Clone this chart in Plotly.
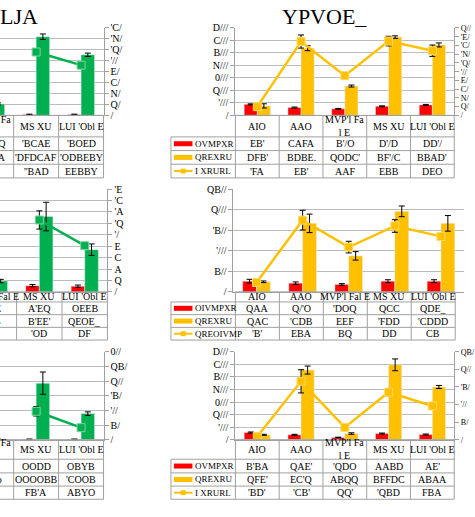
import plotly.graph_objects as go

W, H = 475, 517
FONT = "Liberation Serif"
RED, YEL, GRN = "#FF0000", "#FFC000", "#00B050"
YEL_EDGE, GRN_EDGE = "#FFD966", "#7FD3A0"
GRID = "#BCBCBC"
EDGE = "#A0A0A0"

# ---------------- text (as it appears in the reference) ----------------
categories = ["AIO", "AAO", "MVP'l Fa<br>l E", "MS XU", "LUI 'Obl E"]
categories_oneline = ["AIO", "AAO", "MVP'l Fal E", "MS XU", "LUI 'Obl E"]
title_left = "LJA"
title_right = "YPVOE_"
legend_top = ["OVMPXR", "QREXRU", "I XRURL"]
legend_mid = ["OIVMPXR", "QREXRU", "QREOIVMP"]
legend_bot = ["OVMPXR", "QREXRU", "I XRURL"]

# ---------------- top-left panel (green) ----------------
tl_red = [1.2, 1.0, 1.0, 1.5, 1.5]
tl_red_err = [0.5, 0.5, 0.5, 0.8, 0.8]
tl_green = [18, 12, 21, 144, 111]
tl_green_err = [2, 2, 2, 5, 3]
tl_line = [None, None, None, 116, 92]
tl_line_err = [0, 0, 0, 2, 2]
tl_tickvals = [0, 20, 40, 60, 80, 100, 120, 140, 160]
tl_ticktext = ["/", "Q/", "N/", "C/", "E/", "'//", "'Q/", "'N/", "'C/"]
tl_table = [["BQ", "AE", "'BCEQ", "'BCAE", "'BOED"],
            ["QOE", "EBA", "'EBDA", "'DFDCAF", "'ODBEBY"],
            ["", "", "", "''BAD", "EEBBY"]]

# ---------------- top-right panel (yellow) ----------------
tr_red = [885, 627, 525, 730, 840]
tr_red_err = [40, 40, 30, 35, 40]
tr_yel = [760, 5380, 2350, 6270, 5640]
tr_yel_err = [170, 200, 80, 100, 160]
tr_line = [20, 169, 91, 170, 148]
tr_line_err = [2, 15, 2, 11, 13]
tr_tickvals = [0, 1000, 2000, 3000, 4000, 5000, 6000, 7000]
tr_ticktext = ["/", "'///", "Q///", "0///", "N///", "B///", "C///", "D///"]
tr2_tickvals = [0, 20, 40, 60, 80, 100, 120, 140, 160, 180, 200]
tr2_ticktext = ["/", "Q/", "N/", "C/", "E/", "'//", "'Q/", "'N/", "'C/", "'E/", "Q//"]
tr_table = [["EB'", "CAFA", "B'/O", "D'/D", "DD'/"],
            ["DFB'", "BDBE.", "QODC'", "BF'/C", "BBAD'"],
            ["'FA", "EB'", "AAF", "EBB", "DEO"]]

# ---------------- middle-left panel (green) ----------------
ml_red = [1.0, 1.0, 1.0, 1.1, 1.0]
ml_red_err = [0.2, 0.2, 0.2, 0.2, 0.2]
ml_green = [2.2, 2.0, 1.9, 13.2, 7.4]
ml_green_err = [0.3, 0.3, 0.3, 2.5, 1.0]
ml_line = [None, None, None, 12.6, 8.1]
ml_line_err = [0, 0, 0, 1.6, 0.3]
ml_tickvals = [0, 2, 4, 6, 8, 10, 12, 14, 16, 18]
ml_ticktext = ["/", "Q", "A", "C", "E", "'/", "'Q", "'A", "'C", "'E"]
ml_table = [["'Q", "'A", "'AE", "A'EQ", "OEEB"],
            ["QA", "QE", "'EB", "B'EE'", "QEOE_"],
            ["", "", "", "'OD", "DF"]]

# ---------------- middle-right panel (yellow) ----------------
mr_red = [261, 213, 182, 261, 261]
mr_red_err = [45, 30, 20, 35, 35]
mr_yel = [246, 1668, 877, 1960, 1668]
mr_yel_err = [20, 225, 103, 130, 190]
mr_line = [230, 1746, 1090, 1604, 1351]
mr_line_err = [20, 240, 142, 154, 30]
mr_tickvals = [0, 500, 1000, 1500, 2000, 2500]
mr_ticktext = ["/", "B//", "'///", "'B//", "Q///", "QB//"]
mr_table = [["QAA", "Q/'O", "'DOQ", "QCC", "QDE_"],
            ["QAC", "'CDB", "EEF", "'FDD", "'CDDD"],
            ["'B'", "EBA", "BQ", "DD", "CB"]]

# ---------------- bottom-left panel (green) ----------------
bl_red = [1.0, 1.0, 1.0, 1.5, 1.5]
bl_red_err = [0.5, 0.5, 0.5, 0.8, 0.8]
bl_green = [3, 2, 1, 193, 89]
bl_green_err = [1, 1, 1, 38, 6]
bl_line = [None, None, None, 97, 41]
bl_line_err = [0, 0, 0, 16, 2]
bl_tickvals = [0, 50, 100, 150, 200, 250, 300]
bl_ticktext = ["/", "B/", "'//", "'B/", "Q//", "QB/", "0//"]
bl_table = [["'B", "'A", "'BQ.", "OODD", "OBYB"],
            ["AB", "QE", "'BDo", "OOOOBB", "'COOB"],
            ["", "", "", "FB'A", "ABYO"]]

# ---------------- bottom-right panel (yellow) ----------------
br_red = [568, 389, 181, 490, 412]
br_red_err = [45, 40, 20, 40, 40]
br_yel = [389, 5545, 490, 5960, 4200]
br_yel_err = [40, 320, 60, 470, 120]
br_line = [9, 166, 35, 135, 96]
br_line_err = [2, 33, 3, 10, 8]
br_tickvals = tr_tickvals
br_ticktext = tr_ticktext
br2_tickvals = [0, 50, 100, 150, 200, 250]
br2_ticktext = ["/", "B/", "'//", "'B/", "Q//", "QB/"]
br_table = [["B'BA", "QAE'", "'QDO", "AABD", "AE'"],
            ["QFE'", "EC'Q", "ABQQ", "BFFDC", "ABAA"],
            ["'BD'", "'CB'", "QQ'", "'QBD", "FBA"]]

x_idx = [0, 1, 2, 3, 4]

# ---------------- layout geometry (pixels) ----------------
panels = [
    dict(n=1, px=(0, 106), py=(22.5, 112), xr=(2.196, 4.5), side="right"),
    dict(n=2, px=(241, 465), py=(22.5, 112), xr=(-0.5, 4.5), side="left"),
    dict(n=3, px=(0, 110), py=(187.5, 292.7), xr=(2.134, 4.5), side="right"),
    dict(n=4, px=(239, 475), py=(187.5, 292.7), xr=(-0.5, 4.5), side="left"),
    dict(n=5, px=(0, 106), py=(354, 444), xr=(2.196, 4.5), side="right"),
    dict(n=6, px=(241, 465), py=(354, 444), xr=(-0.5, 4.5), side="left"),
]


def fx(px):
    return px / W


def fy(py):
    return 1 - py / H


fig = go.Figure()
shapes = []
annotations = []

errstyle = dict(type="data", color="black", thickness=1, width=3)


def add_panel(p, red, red_err, bar2, bar2_err, bar2_color, line, line_err,
              line_color, line_edge, yr, tickvals, ticktext, y2=None):
    n = p["n"]
    xa, ya = f"x{n}", f"y{n}"
    fig.add_trace(go.Bar(x=x_idx, y=red, marker_color=RED, xaxis=xa, yaxis=ya,
                         error_y=dict(array=red_err, **errstyle), showlegend=False))
    fig.add_trace(go.Bar(x=x_idx, y=bar2, marker_color=bar2_color, xaxis=xa, yaxis=ya,
                         error_y=dict(array=bar2_err, **errstyle), showlegend=False))
    ly = ya
    if y2 is not None:
        ly = f"y{y2['n']}"
    fig.add_trace(go.Scatter(x=x_idx, y=line, mode="lines+markers", xaxis=xa, yaxis=ly,
                             line=dict(color=line_color, width=2.5),
                             marker=dict(symbol="square", size=8, color=line_color,
                                         line=dict(color=line_edge, width=1)),
                             error_y=dict(array=line_err, **errstyle),
                             connectgaps=False, showlegend=False))
    fig.layout[f"xaxis{n}"] = dict(domain=[fx(p["px"][0]), fx(p["px"][1])], range=list(p["xr"]),
                                   anchor=ya, showticklabels=False, showgrid=False,
                                   zeroline=False, showline=True, linecolor=EDGE, ticks="")
    fig.layout[f"yaxis{n}"] = dict(domain=[fy(p["py"][1]), fy(p["py"][0])], range=yr,
                                   anchor=xa, side=p["side"], tickvals=tickvals,
                                   ticktext=ticktext, showgrid=True, gridcolor=GRID,
                                   gridwidth=1, zeroline=False, showline=True,
                                   linecolor=EDGE, ticks="outside", ticklen=4,
                                   tickcolor=EDGE,
                                   tickfont=dict(family=FONT, size=10, color="black"))
    if y2 is not None:
        fig.layout[f"yaxis{y2['n']}"] = dict(overlaying=ya, anchor=xa, side="right",
                                             range=y2["range"], tickvals=y2.get("tickvals"),
                                             ticktext=y2.get("ticktext"), showgrid=False,
                                             zeroline=False, showline=y2["show"],
                                             showticklabels=y2["show"], linecolor=EDGE,
                                             ticks="outside" if y2["show"] else "",
                                             ticklen=4, tickcolor=EDGE,
                                             tickfont=dict(family=FONT, size=8, color="black"))


def hline(x0, x1, y):
    shapes.append(dict(type="line", xref="paper", yref="paper", x0=fx(x0), x1=fx(x1),
                       y0=fy(y), y1=fy(y), line=dict(color=EDGE, width=1)))


def vline(x, y0, y1):
    shapes.append(dict(type="line", xref="paper", yref="paper", x0=fx(x), x1=fx(x),
                       y0=fy(y0), y1=fy(y1), line=dict(color=EDGE, width=1)))


def text(x, y, s, size=10, xanchor="center"):
    annotations.append(dict(x=fx(x), y=fy(y), xref="paper", yref="paper", text=s,
                            showarrow=False, xanchor=xanchor, yanchor="middle",
                            font=dict(family=FONT, size=size, color="black")))


def add_table(bounds, rows, cats, table, legend, colors):
    leg_left = bounds[0] - 66
    for i, r in enumerate(rows):
        hline(leg_left if i > 0 else bounds[0], bounds[-1], r)
    for b in bounds:
        vline(b, rows[0], rows[-1])
    vline(leg_left, rows[1], rows[-1])
    for k in range(5):
        cx = (bounds[k] + bounds[k + 1]) / 2
        text(cx, (rows[0] + rows[1]) / 2, cats[k])
        for j in range(3):
            text(cx, (rows[j + 1] + rows[j + 2]) / 2, table[j][k])
    for j in range(3):
        cy = (rows[j + 1] + rows[j + 2]) / 2
        if j < 2:
            shapes.append(dict(type="line", xref="paper", yref="paper",
                               x0=fx(leg_left + 3), x1=fx(leg_left + 22), y0=fy(cy), y1=fy(cy),
                               line=dict(color=colors[j], width=5)))
        else:
            shapes.append(dict(type="line", xref="paper", yref="paper",
                               x0=fx(leg_left + 3), x1=fx(leg_left + 22), y0=fy(cy), y1=fy(cy),
                               line=dict(color=colors[j], width=2)))
            shapes.append(dict(type="rect", xref="paper", yref="paper",
                               x0=fx(leg_left + 10), x1=fx(leg_left + 15),
                               y0=fy(cy + 2.5), y1=fy(cy - 2.5),
                               fillcolor=colors[j], line=dict(color=colors[j], width=0)))
        text(leg_left + 23, cy, legend[j], size=9, xanchor="left")


def col_bounds(p):
    (px0, px1), (r0, r1) = p["px"], p["xr"]
    return [px0 + (k - 0.5 - r0) / (r1 - r0) * (px1 - px0) for k in range(6)]


# ---- build panels ----
add_panel(panels[0], tl_red, tl_red_err, tl_green, tl_green_err, GRN, tl_line, tl_line_err,
          GRN, GRN_EDGE, [0, 160], tl_tickvals, tl_ticktext)
add_panel(panels[1], tr_red, tr_red_err, tr_yel, tr_yel_err, YEL, tr_line, tr_line_err,
          YEL, YEL_EDGE, [0, 7000], tr_tickvals, tr_ticktext,
          y2=dict(n=7, range=[0, 200], tickvals=tr2_tickvals, ticktext=tr2_ticktext, show=True))
add_panel(panels[2], ml_red, ml_red_err, ml_green, ml_green_err, GRN, ml_line, ml_line_err,
          GRN, GRN_EDGE, [0, 18], ml_tickvals, ml_ticktext)
add_panel(panels[3], mr_red, mr_red_err, mr_yel, mr_yel_err, YEL, mr_line, mr_line_err,
          YEL, YEL_EDGE, [0, 2500], mr_tickvals, mr_ticktext,
          y2=dict(n=8, range=[0, 2500], show=False))
add_panel(panels[4], bl_red, bl_red_err, bl_green, bl_green_err, GRN, bl_line, bl_line_err,
          GRN, GRN_EDGE, [0, 300], bl_tickvals, bl_ticktext)
add_panel(panels[5], br_red, br_red_err, br_yel, br_yel_err, YEL, br_line, br_line_err,
          YEL, YEL_EDGE, [0, 7000], br_tickvals, br_ticktext,
          y2=dict(n=9, range=[0, 250], tickvals=br2_tickvals, ticktext=br2_ticktext, show=True))

# ---- data tables ----
rows_top = [112, 134, 148, 162, 176]
rows_mid = [292.7, 303, 316, 329, 342]
rows_bot = [444, 464, 478, 491.5, 505]
mr_bounds = [241 + k * 45 for k in range(6)]

add_table(col_bounds(panels[0]), rows_top, categories, tl_table, legend_top, [RED, GRN, GRN])
add_table(col_bounds(panels[1]), rows_top, categories, tr_table, legend_top, [RED, YEL, YEL])
add_table(col_bounds(panels[2]), rows_mid, categories_oneline, ml_table, legend_mid, [RED, GRN, GRN])
add_table(mr_bounds, rows_mid, categories_oneline, mr_table, legend_mid, [RED, YEL, YEL])
add_table(col_bounds(panels[4]), rows_bot, categories, bl_table, legend_bot, [RED, GRN, GRN])
add_table(col_bounds(panels[5]), rows_bot, categories, br_table, legend_bot, [RED, YEL, YEL])

# ---- titles ----
text(41, 11, title_left, size=22, xanchor="right")
text(332, 11, title_right, size=22)

fig.update_layout(width=W, height=H, margin=dict(l=0, r=0, t=0, b=0),
                  paper_bgcolor="white", plot_bgcolor="white",
                  barmode="group", bargap=0.4, bargroupgap=0,
                  shapes=shapes, annotations=annotations, showlegend=False)

fig.write_html("out.html")
